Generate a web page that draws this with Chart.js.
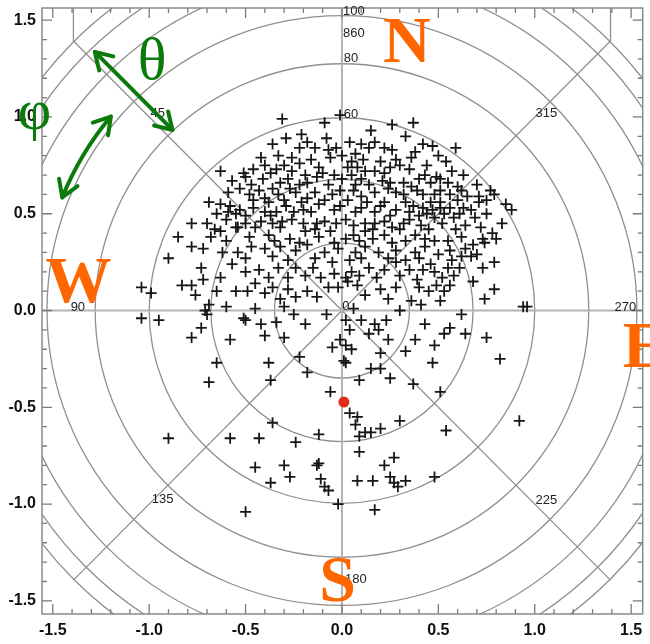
<!DOCTYPE html>
<html>
<head>
<meta charset="utf-8">
<script src="https://cdn.jsdelivr.net/npm/chart.js@4.4.0/dist/chart.umd.min.js"></script>
<style>
  html, body { margin: 0; padding: 0; background: #fff; }
  #wrap { width: 650px; height: 644px; }
</style>
</head>
<body>
<div id="wrap"><canvas id="skyChart" width="650" height="644"></canvas></div>
<script>
// axis ticks
const xTickValues = [-1.5, -1.0, -0.5, 0.0, 0.5, 1.0, 1.5];
const yTickValues = [-1.5, -1.0, -0.5, 0.0, 0.5, 1.0, 1.5];

// polar overlay: ring radii (zenith 20..160 deg) and labels
const ringRadii = [0.35, 0.68, 1.0, 1.28, 1.53, 1.73, 1.88, 1.97];
const azimuthText = ["0", "45", "90", "135", "180", "225", "270", "315"];
const zenithText = ["60", "80", "860", "100"];
const compassText = ["N", "W", "E", "S"];

// measured directions (x, y)
const crosses = [
  // west outskirts
  [-0.78,0.45],[-0.85,0.38],[-0.68,0.38],[-0.78,0.33],[-0.72,0.32],[-0.90,0.27],[-0.73,0.22],
  [-0.72,0.16],[-0.83,0.13],[-0.78,0.13],[-0.76,0.08],[-0.65,0.10],[-1.04,0.12],[-0.99,0.09],
  [-0.69,0.03],[-0.71,0.00],[-0.70,-0.02],[-1.04,-0.04],[-0.95,-0.05],[-0.73,-0.09],[-0.78,-0.14],
  [-0.65,-0.27],[-0.69,-0.37],[-0.90,-0.66],[-0.69,0.56],[-0.65,0.50],
  // north-west
  [-0.42,0.79],[-0.63,0.72],[-0.46,0.73],[-0.51,0.71],[-0.50,0.69],[-0.41,0.68],[-0.47,0.65],
  [-0.59,0.61],[-0.53,0.63],[-0.46,0.57],[-0.38,0.56],[-0.58,0.54],[-0.59,0.51],[-0.53,0.52],
  [-0.50,0.49],[-0.60,0.47],[-0.40,0.51],[-0.42,0.46],[-0.66,0.42],[-0.55,0.43],
  // north
  [-0.31,0.99],[-0.09,0.97],[-0.01,1.01],[0.26,0.96],[0.33,0.90],[0.15,0.93],[-0.36,0.86],
  [-0.29,0.89],[-0.21,0.91],[-0.08,0.89],[-0.03,0.84],[-0.14,0.84],[-0.22,0.84],[0.17,0.87],
  [0.14,0.84],[0.26,0.83],[-0.26,0.79],[-0.06,0.79],[0.07,0.81],[0.05,0.77],[0.28,0.78],
  [0.30,0.75],[-0.12,0.74],[-0.34,0.73],[-0.26,0.72],[0.03,0.74],[0.12,0.72],[0.17,0.72],
  [0.22,0.71],[-0.19,0.70],[-0.13,0.69],[-0.04,0.70],[0.05,0.70],[-0.18,0.66],[-0.07,0.65],
  [0.07,0.65],[-0.32,0.66],[-0.36,0.63],[0.14,0.65],[0.21,0.67],[0.32,0.66],[-0.24,0.61],
  [-0.14,0.61],[-0.01,0.62],[0.17,0.61],[0.28,0.61],[-0.30,0.57],[-0.21,0.56],[-0.09,0.57],
  [0.03,0.57],[0.13,0.56],[0.22,0.56],[0.33,0.56],[-0.34,0.51],[-0.25,0.51],[-0.16,0.51],
  [-0.04,0.52],[0.07,0.51],[0.17,0.51],[0.28,0.52],[-0.31,0.46],[-0.20,0.45],[-0.09,0.46],
  [0.02,0.47],[0.12,0.45],[0.22,0.46],[0.32,0.45],[-0.07,0.83],[0.04,0.87],[-0.37,0.71],[0.08,0.74],
  [-0.18,0.87],[0.10,0.86],[0.22,0.84],[0.38,0.82],[0.50,0.80],[-0.33,0.80],[0.00,0.80],
  [-0.40,0.75],[-0.22,0.76],[-0.16,0.78],[0.11,0.78],[0.20,0.77],[0.35,0.73],[0.44,0.75],
  [0.57,0.72],[0.63,0.70],[-0.30,0.75],[0.25,0.74],
  [-0.57,0.67],[-0.43,0.62],[-0.28,0.68],[-0.22,0.65],[-0.10,0.71],[0.00,0.68],[0.10,0.68],
  [0.25,0.66],[0.36,0.64],[0.43,0.70],[0.55,0.66],[0.60,0.64],[0.70,0.65],[0.79,0.60],
  [-0.48,0.60],[-0.40,0.58],[-0.33,0.60],[-0.27,0.63],[-0.18,0.58],[-0.05,0.60],[0.06,0.62],
  [0.10,0.59],[0.24,0.63],[0.32,0.60],[0.48,0.60],[0.56,0.60],[0.62,0.62],[0.75,0.57],[0.85,0.55],
  [-0.63,0.55],[-0.55,0.50],[-0.46,0.53],[-0.37,0.49],[-0.29,0.54],[-0.20,0.52],[-0.12,0.55],
  [-0.01,0.54],[0.10,0.53],[0.20,0.54],[0.25,0.49],[0.35,0.51],[0.44,0.50],[0.51,0.53],
  [0.61,0.50],[0.67,0.52],[0.75,0.50],[0.88,0.52],
  // north-east
  [0.37,0.97],[0.42,0.86],[0.47,0.85],[0.59,0.84],[0.36,0.79],[0.54,0.77],[0.40,0.68],
  [0.46,0.66],[0.49,0.69],[0.51,0.68],[0.39,0.62],[0.51,0.62],[0.42,0.60],[0.46,0.56],
  [0.51,0.56],[0.60,0.57],[0.65,0.59],[0.71,0.59],[0.77,0.62],[0.71,0.56],[0.37,0.54],
  [0.42,0.53],[0.56,0.53],[0.63,0.53],[0.53,0.50],[0.40,0.49],[0.48,0.48],[0.58,0.48],
  [0.69,0.48],[0.64,0.44],[0.41,0.44],[0.83,0.45],[0.47,0.52],
  // east
  [0.73,0.37],[0.80,0.37],[0.74,0.35],[0.56,0.31],[0.64,0.32],[0.62,0.28],[0.67,0.28],
  [0.70,0.29],[0.79,0.25],[0.73,0.22],[0.46,0.24],[0.48,0.20],[0.55,0.22],[0.61,0.22],
  [0.58,0.18],[0.56,0.13],[0.53,0.10],[0.51,0.05],[0.68,0.15],[0.79,0.11],[0.74,0.06],
  [0.94,0.02],[0.96,0.02],[0.56,-0.09],[0.53,-0.12],[0.48,-0.18],[0.64,-0.12],[0.75,-0.14],
  [0.47,-0.27],[0.82,-0.25],[0.51,-0.42],[0.92,-0.57],[0.54,-0.62],
  // centre
  [-0.63,0.41],[-0.54,0.43],[-0.45,0.43],[-0.38,0.39],[-0.32,0.43],[-0.27,0.37],[-0.19,0.41],
  [-0.13,0.45],[-0.06,0.41],[0.02,0.37],[0.06,0.39],[0.12,0.41],[0.17,0.45],[0.22,0.39],
  [0.30,0.42],[0.38,0.39],[0.45,0.42],[0.48,0.36],
  [-0.70,0.45],[-0.50,0.45],[-0.36,0.45],[-0.26,0.47],[-0.14,0.42],[-0.03,0.45],[0.06,0.44],
  [0.16,0.42],[0.26,0.43],[0.35,0.47],[0.52,0.45],[0.59,0.42],[0.72,0.43],[0.78,0.40],
  [-0.54,0.30],[-0.47,0.33],[-0.40,0.32],[-0.32,0.33],[-0.24,0.31],[-0.18,0.34],[-0.09,0.30],
  [-0.02,0.32],[0.07,0.30],[0.12,0.33],[0.19,0.30],[0.28,0.31],[0.38,0.30],[0.43,0.33],
  [-0.60,0.36],[-0.48,0.38],[-0.35,0.36],[-0.22,0.35],[-0.12,0.38],[-0.04,0.35],[0.09,0.36],
  [0.16,0.37],[0.26,0.35],[0.33,0.36],[0.43,0.37],[0.55,0.36],[0.62,0.38],[0.68,0.34],
  [-0.57,0.24],[-0.63,0.17],[-0.43,0.21],[-0.33,0.22],[-0.28,0.17],[-0.19,0.18],[-0.11,0.17],
  [-0.04,0.19],[0.02,0.17],[0.05,0.20],[0.14,0.22],[0.22,0.21],[0.28,0.25],[0.35,0.21],[0.42,0.21],
  [-0.62,0.30],[-0.50,0.27],[-0.36,0.28],[-0.28,0.26],[-0.14,0.27],[-0.05,0.25],[0.04,0.26],
  [0.10,0.27],[0.24,0.27],[0.33,0.26],[0.40,0.27],[0.50,0.29],[0.57,0.26],
  [-0.50,0.20],[-0.38,0.17],[-0.24,0.22],[-0.15,0.22],[0.09,0.18],[0.18,0.17],[0.30,0.18],
  [0.39,0.16],[0.52,0.17],
  [-0.55,0.10],[-0.49,0.10],[-0.40,0.09],[-0.32,0.06],[-0.24,0.07],[-0.18,0.10],[-0.07,0.12],
  [-0.02,0.12],[0.03,0.15],[0.08,0.13],[0.20,0.11],[0.28,0.12],[0.36,0.05],[0.45,0.10],
  [-0.45,0.14],[-0.36,0.12],[-0.28,0.11],[-0.13,0.07],[0.12,0.08],[0.24,0.06],[0.40,0.12],[0.49,0.13],
  [-0.60,0.02],[-0.45,0.01],[-0.30,0.02],[-0.08,-0.02],[0.06,0.01],[0.30,0.00],[0.41,0.03],[0.62,-0.02],
  [-0.51,-0.04],[-0.50,-0.05],[-0.42,-0.07],[-0.34,-0.06],[-0.25,-0.02],[-0.19,-0.07],[0.02,-0.05],
  [0.10,-0.05],[0.04,-0.10],[0.19,-0.10],[0.23,-0.05],[0.17,-0.07],[0.43,-0.07],
  [-0.58,-0.15],[-0.40,-0.13],[-0.30,-0.14],[-0.01,-0.15],[0.14,-0.12],[-0.05,-0.19],[0.02,-0.18],
  [0.05,-0.20],[0.38,-0.15],[0.33,-0.21],[0.24,-0.15],
  [-0.22,-0.24],[0.01,-0.26],[0.02,-0.27],[-0.38,-0.27],[-0.18,-0.32],[0.20,-0.22],[0.15,-0.30],
  [0.20,-0.30],[0.25,-0.35],[0.09,-0.36],[-0.37,-0.36],[-0.06,-0.42],
  // south
  [0.04,-0.53],[0.08,-0.55],[0.07,-0.59],[0.12,-0.63],[0.15,-0.63],[0.20,-0.61],[0.30,-0.57],
  [0.37,-0.38],[-0.36,-0.58],[-0.43,-0.66],[-0.12,-0.64],[-0.58,-0.66],
  [-0.24,-0.68],[0.09,-0.65],[0.09,-0.73],[0.27,-0.76],[0.22,-0.80],[-0.45,-0.81],[-0.30,-0.80],
  [-0.27,-0.86],[-0.37,-0.89],[-0.13,-0.80],[-0.12,-0.79],[-0.11,-0.87],[-0.09,-0.91],[-0.07,-0.93],
  [0.08,-0.88],[0.16,-0.88],[0.25,-0.86],[0.27,-0.89],[0.29,-0.91],[0.33,-0.88],[0.48,-0.86],
  [-0.02,-1.00],[0.17,-1.03],[-0.50,-1.04]
];
const sunPoint = [[0.01, -0.473]];

const GRID_GRAY = "#8f8f8f";
const GREEN = "#0b7a0b";
const ORANGE = "#ff6600";

// polar rings, spokes, inward ticks, frame and small labels
const polarGrid = {
  id: "polarGrid",
  beforeDatasetsDraw(chart) {
    const { ctx, chartArea: a } = chart;
    const sx = chart.scales.x, sy = chart.scales.y;
    const cx = sx.getPixelForValue(0), cy = sy.getPixelForValue(0);
    const unit = sx.getPixelForValue(1) - cx;
    ctx.save();
    ctx.beginPath();
    ctx.rect(a.left, a.top, a.right - a.left, a.bottom - a.top);
    ctx.clip();

    ctx.strokeStyle = GRID_GRAY;
    ctx.lineWidth = 1.3;
    ringRadii.forEach(r => {
      ctx.beginPath();
      ctx.arc(cx, cy, r * unit, 0, Math.PI * 2);
      ctx.stroke();
    });

    // diagonal spokes stop at the outer ring; the two upper ones then run straight up
    const spokeR = ringRadii[ringRadii.length - 1];
    [45, 135, 225, 315].forEach(deg => {
      const t = deg * Math.PI / 180;
      const ex = sx.getPixelForValue(spokeR * Math.cos(t));
      const ey = sy.getPixelForValue(spokeR * Math.sin(t));
      ctx.beginPath();
      ctx.moveTo(cx, cy);
      ctx.lineTo(ex, ey);
      if (deg < 180) ctx.lineTo(ex, a.top);
      ctx.stroke();
    });

    ctx.strokeStyle = "#b3b3b3";
    ctx.lineWidth = 2;
    ctx.beginPath();
    ctx.moveTo(a.left, cy); ctx.lineTo(a.right, cy);
    ctx.moveTo(cx, a.top); ctx.lineTo(cx, a.bottom);
    ctx.stroke();

    // inward tick marks on all four sides
    ctx.strokeStyle = "#7a7a7a";
    ctx.lineWidth = 1.3;
    ctx.beginPath();
    for (let i = -16; i <= 16; i++) {
      const v = i / 10;
      const len = i % 5 === 0 ? 10 : 5;
      if (v >= sx.min && v <= sx.max) {
        const px = sx.getPixelForValue(v);
        ctx.moveTo(px, a.bottom); ctx.lineTo(px, a.bottom - len);
        ctx.moveTo(px, a.top); ctx.lineTo(px, a.top + len);
      }
      if (v >= sy.min && v <= sy.max) {
        const py = sy.getPixelForValue(v);
        ctx.moveTo(a.left, py); ctx.lineTo(a.left + len, py);
        ctx.moveTo(a.right, py); ctx.lineTo(a.right - len, py);
      }
    }
    ctx.stroke();
    ctx.restore();

    ctx.save();
    ctx.strokeStyle = "#8a8a8a";
    ctx.lineWidth = 1.5;
    ctx.strokeRect(a.left, a.top, a.right - a.left, a.bottom - a.top);

    ctx.fillStyle = "#222";
    ctx.font = "13px 'Liberation Sans', Arial, sans-serif";
    ctx.textAlign = "center";
    ctx.textBaseline = "middle";
    const azPos = [[0.02,0.023],[-0.956,1.02],[-1.37,0.018],[-0.93,-0.974],[0.072,-1.388],[1.06,-0.98],[1.47,0.018],[1.06,1.02]];
    azimuthText.forEach((t, i) => {
      ctx.fillText(t, sx.getPixelForValue(azPos[i][0]), sy.getPixelForValue(azPos[i][1]));
    });
    const zenPos = [[0.047,1.015],[0.047,1.305],[0.062,1.434],[0.062,1.543]];
    zenithText.forEach((t, i) => {
      ctx.fillText(t, sx.getPixelForValue(zenPos[i][0]), sy.getPixelForValue(zenPos[i][1]));
    });
    ctx.restore();
  }
};

function arrowHead(ctx, x, y, dx, dy, size) {
  const ang = Math.atan2(dy, dx);
  ctx.beginPath();
  ctx.moveTo(x - size * Math.cos(ang - 0.55), y - size * Math.sin(ang - 0.55));
  ctx.lineTo(x, y);
  ctx.lineTo(x - size * Math.cos(ang + 0.55), y - size * Math.sin(ang + 0.55));
  ctx.stroke();
}

// compass letters and the theta / phi arrows on top
const annotations = {
  id: "annotations",
  afterDatasetsDraw(chart) {
    const { ctx } = chart;
    const sx = chart.scales.x, sy = chart.scales.y;
    const X = v => sx.getPixelForValue(v), Y = v => sy.getPixelForValue(v);
    const cx = X(0), cy = Y(0);
    const unit = X(1) - cx;
    ctx.save();

    ctx.fillStyle = ORANGE;
    ctx.font = "bold 66px 'Liberation Serif', 'Times New Roman', serif";
    ctx.textBaseline = "alphabetic";
    const compassPos = [[0.336,1.284,"center"],[-1.367,0.044,"center"],[1.457,-0.292,"left"],[-0.023,-1.501,"center"]];
    compassText.forEach((t, i) => {
      ctx.textAlign = compassPos[i][2];
      ctx.fillText(t, X(compassPos[i][0]), Y(compassPos[i][1]));
    });

    ctx.fillStyle = GREEN;
    ctx.strokeStyle = GREEN;
    ctx.textAlign = "center";
    ctx.font = "60px 'Liberation Serif', 'Times New Roman', serif";
    ctx.fillText("θ", X(-0.985), Y(1.195));
    ctx.font = "58px 'Liberation Serif', 'Times New Roman', serif";
    ctx.fillText("φ", X(-1.595), Y(0.94));

    ctx.lineWidth = 4;
    ctx.lineCap = "round";
    ctx.lineJoin = "round";
    // radial (theta) double arrow
    const p1 = [X(-0.879), Y(0.933)], p2 = [X(-1.282), Y(1.336)];
    ctx.beginPath();
    ctx.moveTo(p1[0], p1[1]); ctx.lineTo(p2[0], p2[1]);
    ctx.stroke();
    arrowHead(ctx, p2[0], p2[1], p2[0] - p1[0], p2[1] - p1[1], 19);
    arrowHead(ctx, p1[0], p1[1], p1[0] - p2[0], p1[1] - p2[1], 19);

    // azimuthal (phi) double arrow
    const R = 1.565 * unit;
    const a1 = 140 * Math.PI / 180, a2 = 158 * Math.PI / 180;
    ctx.beginPath();
    ctx.arc(cx, cy, R, -a2, -a1);
    ctx.stroke();
    const e1 = [cx + R * Math.cos(a1), cy - R * Math.sin(a1)];
    const e2 = [cx + R * Math.cos(a2), cy - R * Math.sin(a2)];
    arrowHead(ctx, e1[0], e1[1], Math.sin(a1), Math.cos(a1), 19);
    arrowHead(ctx, e2[0], e2[1], -Math.sin(a2), -Math.cos(a2), 19);
    ctx.restore();
  }
};

const axisFont = { family: "'Liberation Sans', Arial, sans-serif", size: 16, weight: "bold" };

new Chart(document.getElementById("skyChart"), {
  type: "scatter",
  data: {
    datasets: [
      {
        data: crosses.map(p => ({ x: p[0], y: p[1] })),
        pointStyle: "cross",
        pointRadius: 5.5,
        borderColor: "#161616",
        borderWidth: 1.8,
      },
      {
        data: sunPoint.map(p => ({ x: p[0], y: p[1] })),
        pointStyle: "circle",
        pointRadius: 5.5,
        backgroundColor: "#e42a1e",
        borderWidth: 0,
      },
    ],
  },
  options: {
    responsive: false,
    animation: false,
    devicePixelRatio: 1,
    layout: { padding: { top: 8, right: 5, left: 0, bottom: 0 } },
    plugins: { legend: { display: false }, tooltip: { enabled: false } },
    scales: {
      x: {
        type: "linear",
        min: -1.556,
        max: 1.56,
        afterBuildTicks: s => { s.ticks = xTickValues.map(v => ({ value: v })); },
        afterFit: s => { s.height = 30; s.paddingLeft = 0; s.paddingRight = 0; },
        grid: { display: false, drawTicks: false },
        border: { display: false },
        ticks: { font: axisFont, color: "#111", padding: 7, maxRotation: 0, callback: v => v.toFixed(1) },
      },
      y: {
        type: "linear",
        min: -1.568,
        max: 1.563,
        afterBuildTicks: s => { s.ticks = yTickValues.map(v => ({ value: v })); },
        afterFit: s => { s.width = 42; s.paddingTop = 0; s.paddingBottom = 0; },
        grid: { display: false, drawTicks: false },
        border: { display: false },
        ticks: { font: axisFont, color: "#111", padding: 6, callback: v => v.toFixed(1) },
      },
    },
  },
  plugins: [polarGrid, annotations],
});
</script>
</body>
</html>
